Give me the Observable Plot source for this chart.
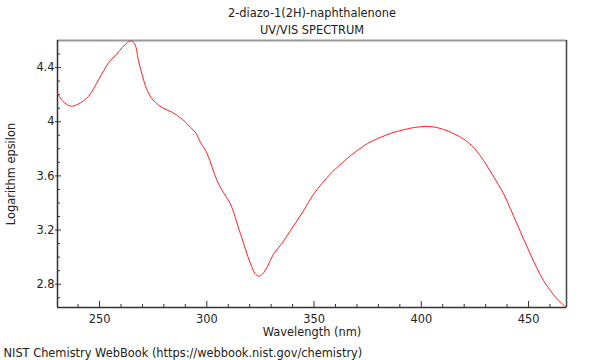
<!DOCTYPE html>
<html>
<head>
<meta charset="utf-8">
<script src="https://cdn.jsdelivr.net/npm/d3@7"></script>
<script src="https://cdn.jsdelivr.net/npm/@observablehq/plot@0.6"></script>
<style>
  body { margin: 0; background: #fff; }
  #chart svg { display: block; }
</style>
</head>
<body>
<div id="chart"></div>
<script>
const titleLines = ["2-diazo-1(2H)-naphthalenone", "UV/VIS SPECTRUM"];
const xLabel = "Wavelength (nm)";
const yLabel = "Logarithm epsilon";
const caption = "NIST Chemistry WebBook (https://webbook.nist.gov/chemistry)";

const wavelength = [230.4, 233, 236.5, 240, 245, 249.7, 254.3, 258, 260.6, 263, 264.5, 266, 266.8, 268.3, 270, 271.4, 274, 276.1, 279.2, 283.9, 288.5, 292.4, 294.7, 297.1, 300.2, 304.8, 308, 311, 315.7, 320.4, 322.5, 324.2, 326, 328.1, 331.2, 335, 339, 345, 349.9, 357.6, 362, 367, 370.1, 375, 380.9, 386, 391.8, 397, 402.7, 407, 412, 416, 419.8, 425, 429.1, 433.5, 438.4, 444.6, 450.8, 457, 463.3, 467.7];
const logEpsilon = [4.21, 4.15, 4.115, 4.13, 4.19, 4.315, 4.437, 4.50, 4.548, 4.585, 4.598, 4.585, 4.56, 4.44, 4.34, 4.265, 4.18, 4.142, 4.105, 4.069, 4.02, 3.958, 3.921, 3.847, 3.762, 3.565, 3.47, 3.393, 3.172, 2.951, 2.88, 2.859, 2.875, 2.926, 3.024, 3.10, 3.196, 3.34, 3.467, 3.614, 3.68, 3.749, 3.786, 3.84, 3.884, 3.915, 3.941, 3.958, 3.965, 3.958, 3.934, 3.905, 3.872, 3.80, 3.712, 3.60, 3.467, 3.246, 3.024, 2.827, 2.692, 2.628];

const xMajorTicks = [250, 300, 350, 400, 450];
const xMinorTicks = [240, 260, 270, 280, 290, 310, 320, 330, 340, 360, 370, 380, 390, 410, 420, 430, 440, 460];
const yMajorTicks = [2.8, 3.2, 3.6, 4, 4.4];
const yMinorTicks = [2.7, 2.9, 3.0, 3.1, 3.3, 3.4, 3.5, 3.7, 3.8, 3.9, 4.1, 4.2, 4.3, 4.5];

const data = wavelength.map((w, i) => ({w, v: logEpsilon[i]}));
const xDomain = [230.4, 467.7];
const yDomain = [2.628, 4.6];

const chart = Plot.plot({
  width: 600,
  height: 360,
  marginLeft: 57,
  marginRight: 34,
  marginTop: 40,
  marginBottom: 53,
  style: {fontFamily: "DejaVu Sans", fontSize: "11.4px", color: "#222", background: "#fff"},
  x: {domain: xDomain},
  y: {domain: yDomain},
  marks: [
    // frame
    Plot.ruleY([yDomain[1]], {stroke: "#999", strokeWidth: 2}),
    Plot.ruleX([xDomain[1]], {stroke: "#444", strokeWidth: 1.5}),
    Plot.ruleX([xDomain[0]], {stroke: "#333", strokeWidth: 1.5}),
    Plot.ruleY([yDomain[0]], {stroke: "#333", strokeWidth: 1.5}),
    // x axis
    Plot.axisX({ticks: xMajorTicks, anchor: "bottom", tickSize: -6, text: null, label: null, stroke: "#333"}),
    Plot.axisX({ticks: xMinorTicks, anchor: "bottom", tickSize: -3, text: null, label: null, stroke: "#333"}),
    Plot.axisX({ticks: xMajorTicks, anchor: "bottom", tickSize: 0, tickPadding: 7, tickFormat: d => String(d), label: null, fill: "#222"}),
    // y axis
    Plot.axisY({ticks: yMajorTicks, anchor: "left", tickSize: 2, tickPadding: 1, tickFormat: d => String(d), label: null, stroke: "#333", fill: "#222"}),
    Plot.axisY({ticks: yMajorTicks, anchor: "left", tickSize: -4, text: null, label: null, stroke: "#333"}),
    Plot.axisY({ticks: yMinorTicks, anchor: "left", tickSize: -3, text: null, label: null, stroke: "#333"}),
    // curve
    Plot.line(data, {x: "w", y: "v", stroke: "#ff2020", strokeWidth: 1, curve: "catmull-rom"}),
    // texts
    Plot.text([titleLines[0]], {frameAnchor: "top", dy: -32, fill: "#222"}),
    Plot.text([titleLines[1]], {frameAnchor: "top", dy: -15, fill: "#222"}),
    Plot.text([xLabel], {frameAnchor: "bottom", dy: 28, fill: "#222"}),
    Plot.text([yLabel], {frameAnchor: "left", dx: -46, rotate: -90, textAnchor: "middle", fill: "#222"}),
    Plot.text([caption], {frameAnchor: "bottom-left", textAnchor: "start", dx: -54, dy: 49, fill: "#222"})
  ]
});
document.getElementById("chart").appendChild(chart);
</script>
</body>
</html>
